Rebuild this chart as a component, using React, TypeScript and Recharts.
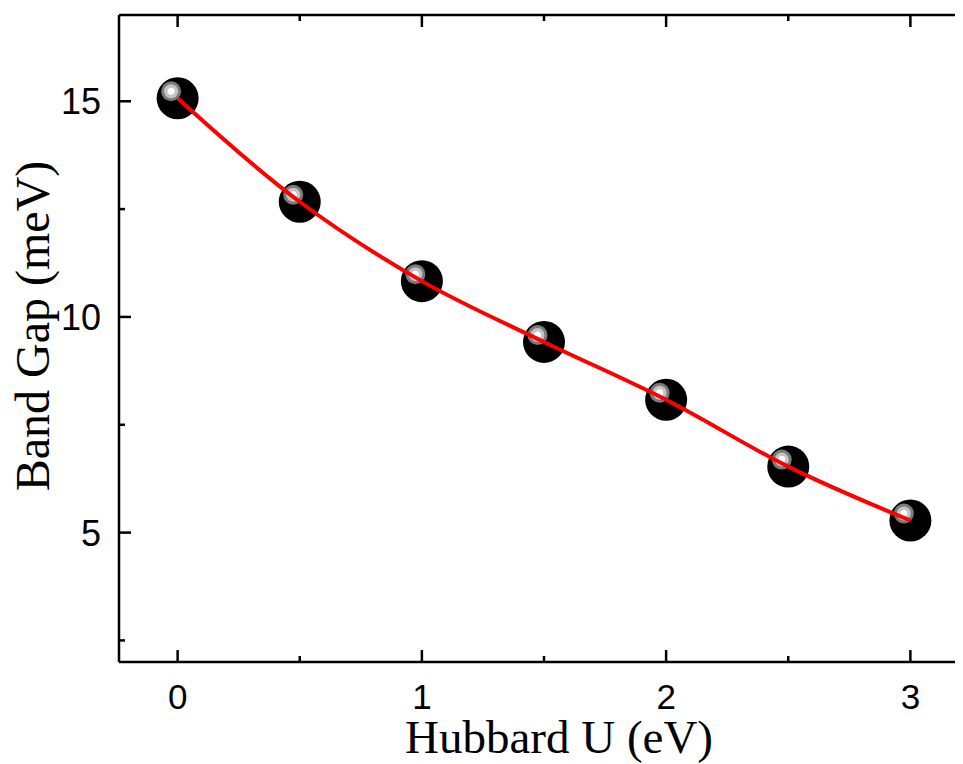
import React from 'react';
import { ComposedChart, Line, XAxis, YAxis } from 'recharts';

// Hubbard U (eV) vs band gap (meV)
const hubbardU = [0, 0.5, 1, 1.5, 2, 2.5, 3];
const bandGap = [15.07, 12.67, 10.83, 9.42, 8.08, 6.53, 5.28];

const xTicks = [0, 0.5, 1, 1.5, 2, 2.5, 3];
const yTicks = [2.5, 5, 7.5, 10, 12.5, 15];

const data = hubbardU.map((u, i) => ({ u, gap: bandGap[i] }));

const tickFont = '"Liberation Sans", Arial, sans-serif';
const titleFont = '"Liberation Serif", "Times New Roman", serif';

const BottomTick = (props: any) => {
  const { x, y, payload } = props;
  const major = Number.isInteger(payload.value);
  return (
    <g>
      <line x1={x} y1={y} x2={x} y2={y - (major ? 12 : 6)} stroke="#000" strokeWidth={2.5} />
      {major && (
        <text x={x} y={y + 47} textAnchor="middle" fontSize={35} fontFamily={tickFont} fill="#000">
          {payload.value}
        </text>
      )}
    </g>
  );
};

const TopTick = (props: any) => {
  const { x, y, payload } = props;
  const major = Number.isInteger(payload.value);
  return <line x1={x} y1={y} x2={x} y2={y + (major ? 12 : 6)} stroke="#000" strokeWidth={2.5} />;
};

const LeftTick = (props: any) => {
  const { x, y, payload } = props;
  const major = payload.value % 5 === 0;
  return (
    <g>
      <line x1={x} y1={y} x2={x + (major ? 12 : 6)} y2={y} stroke="#000" strokeWidth={2.5} />
      {major && (
        <text x={x - 18} y={y + 13} textAnchor="end" fontSize={36} fontFamily={tickFont} fill="#000">
          {payload.value}
        </text>
      )}
    </g>
  );
};

const RightTick = (props: any) => {
  const { x, y, payload } = props;
  const major = payload.value % 5 === 0;
  return <line x1={x} y1={y} x2={x - (major ? 12 : 6)} y2={y} stroke="#000" strokeWidth={2.5} />;
};

// 3D-looking sphere marker like Origin's
const Sphere = (props: any) => {
  const { cx, cy } = props;
  if (cx == null || cy == null) return null;
  return (
    <g>
      <circle cx={cx} cy={cy} r={21} fill="#000" />
      <circle cx={cx - 6.5} cy={cy - 7} r={10} fill="#7a7a7a" />
      <circle cx={cx - 6.5} cy={cy - 7} r={7} fill="#c4c4c4" />
      <circle cx={cx - 6.5} cy={cy - 7} r={3.5} fill="#fff" />
    </g>
  );
};

const axisLine = { stroke: '#000', strokeWidth: 2.5 };

// same axes for both layers; the overlay layer draws them invisibly
const axes = (visible: boolean) => [
  <XAxis
    key="xb"
    dataKey="u"
    type="number"
    domain={[-0.24, 3.24]}
    allowDataOverflow
    ticks={xTicks}
    interval={0}
    height={102}
    tickSize={0}
    tickMargin={0}
    tickLine={false}
    axisLine={visible ? axisLine : false}
    tick={visible ? <BottomTick /> : false}
    label={
      visible
        ? {
            content: () => (
              <text x={551} y={745} textAnchor="middle" fontSize={47} fontFamily={titleFont} fill="#000">
                Hubbard U (eV)
              </text>
            ),
          }
        : undefined
    }
  />,
  <XAxis
    key="xt"
    xAxisId="top"
    orientation="top"
    dataKey="u"
    type="number"
    domain={[-0.24, 3.24]}
    allowDataOverflow
    ticks={xTicks}
    interval={0}
    height={1}
    tickSize={0}
    tickMargin={0}
    tickLine={false}
    axisLine={visible ? axisLine : false}
    tick={visible ? <TopTick /> : false}
  />,
  <YAxis
    key="yl"
    type="number"
    domain={[2, 17]}
    allowDataOverflow
    ticks={yTicks}
    interval={0}
    width={111}
    tickSize={0}
    tickMargin={0}
    tickLine={false}
    axisLine={visible ? axisLine : false}
    tick={visible ? <LeftTick /> : false}
    label={
      visible
        ? {
            content: () => (
              <text
                x={41}
                y={318}
                transform="rotate(-90 41 318)"
                textAnchor="middle"
                fontSize={48}
                fontFamily={titleFont}
                fill="#000"
              >
                Band Gap (meV)
              </text>
            ),
          }
        : undefined
    }
  />,
  <YAxis
    key="yr"
    yAxisId="right"
    orientation="right"
    type="number"
    domain={[2, 17]}
    allowDataOverflow
    ticks={yTicks}
    interval={0}
    width={39}
    tickSize={0}
    tickMargin={0}
    tickLine={false}
    axisLine={visible ? axisLine : false}
    tick={visible ? <RightTick /> : false}
  />,
];

const W = 1000;
const H = 756;
const margin = { top: 6, right: 0, bottom: 0, left: 0 };

export default function App() {
  return (
    <div style={{ width: 955, height: H, overflow: 'hidden', position: 'relative' }}>
      {/* frame + sphere markers */}
      <ComposedChart width={W} height={H} data={data} margin={margin}>
        {axes(true)}
        <Line dataKey="gap" stroke="none" dot={<Sphere />} activeDot={false} isAnimationActive={false} />
      </ComposedChart>
      {/* red fit curve on top of the markers */}
      <div style={{ position: 'absolute', left: 0, top: 0 }}>
        <ComposedChart width={W} height={H} data={data} margin={margin}>
          {axes(false)}
          <Line
            dataKey="gap"
            type="monotone"
            stroke="#ff0000"
            strokeWidth={4}
            dot={false}
            activeDot={false}
            isAnimationActive={false}
          />
        </ComposedChart>
      </div>
    </div>
  );
}
